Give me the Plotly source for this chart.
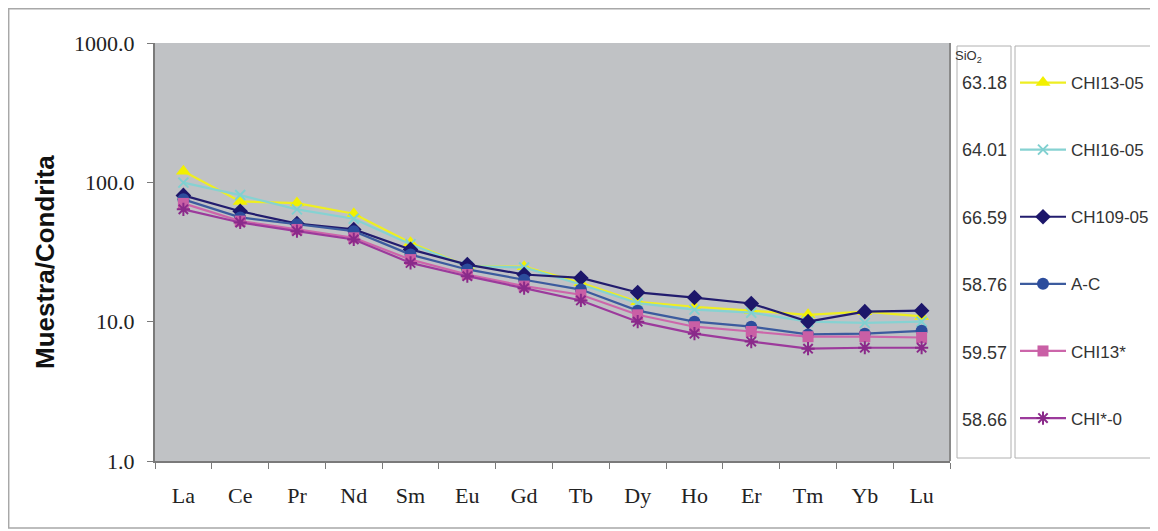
import plotly.graph_objects as go

# ---------------- data ----------------
elements = ["La", "Ce", "Pr", "Nd", "Sm", "Eu", "Gd", "Tb", "Dy", "Ho", "Er", "Tm", "Yb", "Lu"]

chi13_05 = [120, 73, 71, 59.5, 36.8, 25.0, 24.8, 19.0, 13.9, 12.8, 12.0, 11.2, 11.8, 10.9]
chi16_05 = [99.5, 81, 64, 54.8, 36.0, 25.0, 24.5, 18.5, 13.6, 12.2, 11.6, 10.0, 9.8, 10.0]
ch109_05 = [80.6, 62, 50.5, 45.9, 33.0, 25.7, 21.8, 20.6, 16.2, 14.9, 13.5, 10.0, 11.8, 12.0]
a_c = [75.5, 56, 50, 44.6, 30.3, 23.7, 20.0, 17.0, 12.0, 10.0, 9.2, 8.1, 8.2, 8.6]
chi13_star = [70.6, 52.7, 45.9, 40.0, 27.9, 21.8, 18.0, 15.6, 11.2, 9.2, 8.5, 7.8, 7.8, 7.7]
chi_star_0 = [64, 51.5, 44.6, 38.9, 26.4, 21.2, 17.4, 14.2, 10.0, 8.2, 7.2, 6.4, 6.5, 6.5]

series_names = ["CHI13-05", "CHI16-05", "CH109-05", "A-C", "CHI13*", "CHI*-0"]
series_values = [chi13_05, chi16_05, ch109_05, a_c, chi13_star, chi_star_0]
sio2_values = ["63.18", "64.01", "66.59", "58.76", "59.57", "58.66"]

y_tickvals = [1, 10, 100, 1000]
y_ticktext = ["1.0", "10.0", "100.0", "1000.0"]

# ---------------- styles / layout ----------------
line_colors = ["#eeee22", "#86d2d2", "#221c6e", "#3c5b9e", "#cc66aa", "#9c3a9c"]
marker_colors = ["#f2f000", "#80d0d0", "#1c166a", "#2c4c9c", "#c95fa5", "#8a2a8a"]
symbols = ["triangle-up", "x-thin-open", "diamond", "circle", "square", "asterisk-open"]
msizes = [13, 10, 12, 12, 11, 11]

OFF = 8  # page body margin
W_FIG, H_FIG = 1158 - OFF, 531 - OFF
L, R, T, B = 155 - OFF, 950 - OFF, 43 - OFF, 461 - OFF
PW, PH = R - L, B - T


def px(xabs):
    return (xabs - OFF - L) / PW


def py(yabs):
    return (B - (yabs - OFF)) / PH


fig = go.Figure()
for name, vals, lc, mc, sym, ms in zip(series_names, series_values, line_colors,
                                       marker_colors, symbols, msizes):
    mk = dict(symbol=sym, size=ms, color=mc)
    if sym.endswith("open"):
        mk["line"] = dict(color=mc, width=2)
    fig.add_trace(go.Scatter(
        x=elements, y=vals, name=name, mode="lines+markers",
        line=dict(color=lc, width=2.2), marker=mk, legendgroup=name,
    ))

shapes = [
    dict(type="rect", xref="paper", yref="paper", x0=px(8.7), x1=px(1155), y0=py(528), y1=py(8.7),
         line=dict(color="#a8a8a8", width=1.5), layer="below"),
    dict(type="line", xref="paper", yref="paper", x0=1, x1=1, y0=0, y1=1,
         line=dict(color="#8a8a8a", width=2)),
    dict(type="rect", xref="paper", yref="paper", x0=px(957), x1=px(1011), y0=py(458), y1=py(46),
         line=dict(color="#b0b0b0", width=1)),
    dict(type="rect", xref="paper", yref="paper", x0=px(1015), x1=px(1165), y0=py(458), y1=py(46),
         line=dict(color="#b0b0b0", width=1)),
]

ROW0, ROWSTEP = 83, 67.4
row_y = [ROW0 + i * ROWSTEP for i in range(len(series_names))]

annotations = [
    dict(text="SiO<sub>2</sub>", x=px(984), y=py(57), xref="paper", yref="paper",
         showarrow=False, yanchor="middle",
         font=dict(family="Liberation Sans", size=13, color="#333")),
    dict(text="<b>Muestra/Condrita</b>", x=px(45), y=py(262), xref="paper", yref="paper",
         showarrow=False, textangle=-90, xanchor="center", yanchor="middle",
         font=dict(family="Liberation Sans", size=26, color="#111")),
]
for v, ry in zip(sio2_values, row_y):
    annotations.append(dict(text=v, x=px(984), y=py(ry), xref="paper", yref="paper",
                            showarrow=False, xanchor="center", yanchor="middle",
                            font=dict(family="Liberation Sans", size=18, color="#333")))

fig.update_layout(
    width=W_FIG, height=H_FIG,
    margin=dict(l=L, r=W_FIG - R, t=T, b=H_FIG - B, autoexpand=False),
    paper_bgcolor="white", plot_bgcolor="#c0c2c5",
    shapes=shapes, annotations=annotations,
    legend=dict(x=px(1015), xanchor="left", y=py(65), yanchor="top",
                bgcolor="rgba(0,0,0,0)", borderwidth=0,
                font=dict(family="Liberation Sans", size=17, color="#333"),
                tracegroupgap=42, itemwidth=46),
    xaxis=dict(type="category", range=[-0.5, 13.5], showgrid=False, showline=True,
               linecolor="#7a7a7a", linewidth=2, ticks="outside", tickson="boundaries",
               ticklen=6, tickcolor="#7a7a7a", ticklabelstandoff=14,
               tickfont=dict(family="Liberation Serif", size=22, color="#222")),
    yaxis=dict(type="log", range=[0, 3], showgrid=False, showline=True, linecolor="#7a7a7a",
               linewidth=2, ticks="outside", ticklen=6, tickcolor="#7a7a7a",
               tickvals=y_tickvals, ticktext=y_ticktext, ticklabelstandoff=8,
               tickfont=dict(family="Liberation Serif", size=22, color="#222")),
)

fig.write_html("out.html")
